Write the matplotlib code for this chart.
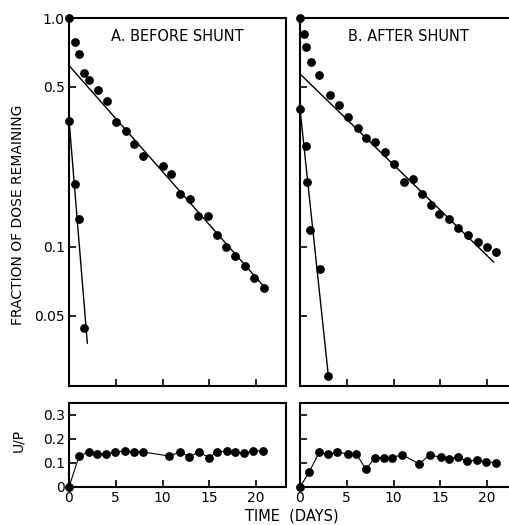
import numpy as np
import matplotlib
matplotlib.use('Agg')
import matplotlib.pyplot as plt
from matplotlib.ticker import NullLocator, FixedLocator

# --- data ---
# A. before shunt, slow component
a_slow_day = [0, 0.64, 1.1, 1.64, 2.1, 3.07, 4.1, 5.0, 6.07, 6.95, 7.9, 10.0, 10.9,
              11.9, 12.9, 13.8, 14.9, 15.8, 16.8, 17.8, 18.8, 19.75, 20.8]
a_slow_val = [1.0, 0.785, 0.698, 0.575, 0.536, 0.483, 0.434, 0.350, 0.322, 0.282, 0.249,
              0.226, 0.208, 0.170, 0.162, 0.137, 0.136, 0.113, 0.100, 0.0916, 0.0829,
              0.0735, 0.0664]
a_fit_day = [0, 21.0]
a_fit_val = [0.62, 0.066]
# A. fast component
a_fast_day = [0, 0.67, 1.04, 1.64]
a_fast_val = [0.356, 0.188, 0.132, 0.0441]
a_fast_fit_day = [0, 1.96]
a_fast_fit_val = [0.36, 0.038]

# B. after shunt, slow component
b_slow_day = [0, 0.43, 0.64, 1.18, 2.06, 3.2, 4.17, 5.13, 6.24, 7.05, 8.05, 9.1, 10.1,
              11.1, 12.1, 13.0, 14.0, 14.9, 15.9, 16.9, 18.0, 19.0, 19.95, 20.95]
b_slow_val = [1.0, 0.849, 0.75, 0.644, 0.564, 0.461, 0.416, 0.371, 0.330, 0.300, 0.286,
              0.259, 0.230, 0.192, 0.199, 0.170, 0.153, 0.139, 0.133, 0.121, 0.113,
              0.105, 0.100, 0.0948]
b_fit_day = [0, 20.7]
b_fit_val = [0.57, 0.086]
# B. fast component
b_fast_day = [0, 0.6, 0.7, 1.07, 2.14, 3.03]
b_fast_val = [0.40, 0.276, 0.193, 0.119, 0.080, 0.0274]
b_fast_fit_day = [0, 3.03]
b_fast_fit_val = [0.40, 0.0274]

# U/P ratio
a_up_day = [0, 1.07, 2.1, 2.95, 4.0, 4.9, 6.0, 6.9, 7.95, 10.7, 11.9, 12.85, 13.9, 15.0,
            15.8, 16.9, 17.7, 18.75, 19.7, 20.75]
a_up_val = [0, 0.128, 0.147, 0.137, 0.137, 0.146, 0.150, 0.146, 0.146, 0.129, 0.146,
            0.126, 0.146, 0.122, 0.147, 0.149, 0.145, 0.140, 0.151, 0.150]
b_up_day = [0, 0.96, 2.06, 2.96, 3.99, 5.1, 6.0, 7.06, 8.0, 9.0, 9.85, 10.9, 12.75,
            13.85, 15.1, 15.9, 16.9, 17.9, 18.9, 19.9, 20.95]
b_up_val = [0, 0.061, 0.145, 0.136, 0.145, 0.138, 0.138, 0.074, 0.122, 0.122, 0.122,
            0.135, 0.096, 0.133, 0.124, 0.118, 0.124, 0.108, 0.111, 0.105, 0.101]

top_ticks = [1.0, 0.5, 0.1, 0.05]
top_labels = ['1.0', '0.5', '0.1', '0.05']
up_ticks = [0, 0.1, 0.2, 0.3]
up_labels = ['0', '0.1', '0.2', '0.3']
day_ticks = [0, 5, 10, 15, 20]

plt.rcParams['font.family'] = ['DejaVu Sans']
plt.rcParams['font.size'] = 10

W, H = 510, 525
fig = plt.figure(figsize=(W / 100, H / 100), dpi=100)


def box(x0, x1, y0, y1):
    return [x0 / W, 1 - y1 / H, (x1 - x0) / W, (y1 - y0) / H]


axA = fig.add_axes(box(69, 286, 18, 386))
axB = fig.add_axes(box(300, 517, 18, 386))
axA2 = fig.add_axes(box(69, 286, 403, 487))
axB2 = fig.add_axes(box(300, 517, 403, 487))

mk = dict(marker='o', ms=5.3, color='black', ls='none')

for ax, sd, sv, fd, fv, qd, qv, qfd, qfv, title in [
        (axA, a_slow_day, a_slow_val, a_fit_day, a_fit_val, a_fast_day, a_fast_val,
         a_fast_fit_day, a_fast_fit_val, 'A. BEFORE SHUNT'),
        (axB, b_slow_day, b_slow_val, b_fit_day, b_fit_val, b_fast_day, b_fast_val,
         b_fast_fit_day, b_fast_fit_val, 'B. AFTER SHUNT')]:
    ax.set_yscale('log')
    ax.plot(fd, fv, color='black', lw=1.0)
    ax.plot(qfd, qfv, color='black', lw=1.0)
    ax.plot(sd, sv, clip_on=False, **mk)
    ax.plot(qd, qv, clip_on=False, **mk)
    ax.set_xlim(0, 23.2)
    ax.set_ylim(0.0247, 1.0)
    ax.yaxis.set_major_locator(FixedLocator(top_ticks))
    ax.yaxis.set_minor_locator(NullLocator())
    ax.set_xticks(day_ticks[1:])
    ax.set_xticklabels([])
    ax.text(0.5, 0.95, title, transform=ax.transAxes, ha='center', va='center',
            fontsize=10.5)

axA.set_yticklabels(top_labels)
axB.set_yticklabels([])

for ax, d, v in [(axA2, a_up_day, a_up_val), (axB2, b_up_day, b_up_val)]:
    ax.plot(d, v, color='black', lw=0.8, clip_on=False)
    ax.plot(d, v, clip_on=False, **mk)
    ax.set_xlim(0, 23.2)
    ax.set_ylim(0, 0.35)
    ax.set_yticks(up_ticks)
    ax.set_xticks(day_ticks)
    ax.set_xticklabels([str(t) for t in day_ticks])

axA2.set_yticklabels(up_labels)
axB2.set_yticklabels([])

for ax in [axA, axB, axA2, axB2]:
    for s in ax.spines.values():
        s.set_linewidth(1.5)
    ax.tick_params(direction='in', length=5, width=1.2, labelsize=10, pad=3)
    ax.tick_params(axis='y', which='minor', length=0)

axB.spines['right'].set_visible(False)
axB2.spines['right'].set_visible(False)

fig.text(18 / W, 1 - 215 / H, 'FRACTION OF DOSE REMAINING', rotation=90,
         ha='center', va='center', fontsize=10)
fig.text(18 / W, 1 - 440 / H, 'U/P', rotation=90, ha='center', va='center', fontsize=10)
fig.text(292 / W, 1 - 516 / H, 'TIME  (DAYS)', ha='center', va='center', fontsize=10.5)

fig.savefig('out.png', dpi=100)
